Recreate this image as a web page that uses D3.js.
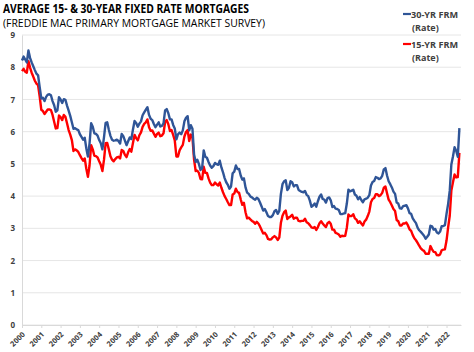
<!DOCTYPE html>
<html>
<meta charset="utf-8">
<script src="https://cdn.jsdelivr.net/npm/d3@7"></script>
<style>
  body { margin: 0; background: #fff; }
  text { font-family: "Open Sans", "Liberation Sans", sans-serif; }
</style>
<body>
<div id="plot_area"></div>
<script>

// monthly averages, Jan 2000 .. Sep 2022
var rate30 = [
  8.21, 8.33, 8.24, 8.15, 8.52, 8.29, 8.15, 8.03, 7.91, 7.80, 7.75, 7.38,
  7.03, 7.05, 6.95, 7.08, 7.15, 7.16, 7.13, 6.95, 6.82, 6.62, 6.66, 7.07,
  7.00, 6.89, 7.01, 6.99, 6.81, 6.65, 6.49, 6.29, 6.09, 6.11, 6.07, 6.05,
  5.92, 5.84, 5.75, 5.81, 5.48, 5.23, 5.63, 6.26, 6.15, 5.95, 5.93, 5.88,
  5.74, 5.64, 5.45, 5.83, 6.27, 6.29, 6.06, 5.87, 5.75, 5.72, 5.73, 5.75,
  5.71, 5.63, 5.93, 5.86, 5.72, 5.58, 5.70, 5.82, 5.77, 6.07, 6.33, 6.27,
  6.15, 6.25, 6.32, 6.51, 6.60, 6.68, 6.76, 6.52, 6.40, 6.36, 6.24, 6.14,
  6.22, 6.29, 6.16, 6.18, 6.26, 6.66, 6.70, 6.57, 6.38, 6.38, 6.21, 6.10,
  5.76, 5.92, 5.97, 5.92, 6.04, 6.32, 6.43, 6.48, 6.04, 6.20, 6.09, 5.29,
  5.06, 5.13, 5.00, 4.81, 4.86, 5.42, 5.22, 5.19, 5.06, 4.95, 4.88, 4.93,
  5.03, 4.99, 4.97, 5.10, 4.89, 4.74, 4.56, 4.43, 4.35, 4.23, 4.30, 4.71,
  4.76, 4.95, 4.84, 4.84, 4.64, 4.51, 4.55, 4.27, 4.11, 4.07, 3.99, 3.96,
  3.92, 3.89, 3.95, 3.91, 3.80, 3.68, 3.55, 3.60, 3.50, 3.38, 3.35, 3.35,
  3.41, 3.53, 3.57, 3.45, 3.54, 4.07, 4.37, 4.46, 4.49, 4.19, 4.26, 4.46,
  4.43, 4.30, 4.34, 4.34, 4.19, 4.16, 4.13, 4.12, 4.16, 4.04, 4.00, 3.86,
  3.67, 3.71, 3.77, 3.67, 3.84, 3.98, 4.05, 3.91, 3.89, 3.80, 3.94, 3.96,
  3.87, 3.66, 3.69, 3.61, 3.60, 3.57, 3.44, 3.44, 3.46, 3.47, 3.77, 4.20,
  4.15, 4.17, 4.20, 4.05, 4.01, 3.90, 3.97, 3.88, 3.81, 3.90, 3.92, 3.95,
  4.03, 4.33, 4.44, 4.47, 4.59, 4.57, 4.53, 4.55, 4.63, 4.83, 4.87, 4.64,
  4.46, 4.37, 4.27, 4.14, 4.07, 3.80, 3.77, 3.62, 3.61, 3.69, 3.70, 3.72,
  3.62, 3.47, 3.45, 3.31, 3.23, 3.16, 3.02, 2.94, 2.89, 2.83, 2.77, 2.68,
  2.74, 2.81, 3.08, 3.06, 2.96, 2.98, 2.87, 2.84, 2.90, 3.07, 3.07, 3.10,
  3.45, 3.76, 4.17, 4.98, 5.23, 5.52, 5.41, 5.22, 6.11
];

var rate15 = [
  7.88, 7.95, 7.86, 7.83, 8.19, 7.99, 7.83, 7.71, 7.58, 7.49, 7.44, 7.09,
  6.68, 6.64, 6.55, 6.62, 6.69, 6.69, 6.67, 6.52, 6.31, 6.10, 6.11, 6.50,
  6.45, 6.36, 6.52, 6.46, 6.26, 6.05, 5.91, 5.74, 5.40, 5.45, 5.42, 5.37,
  5.27, 5.18, 5.10, 5.17, 4.85, 4.60, 4.95, 5.58, 5.45, 5.25, 5.24, 5.20,
  5.08, 4.97, 4.78, 5.13, 5.64, 5.65, 5.45, 5.24, 5.13, 5.08, 5.15, 5.20,
  5.22, 5.17, 5.43, 5.40, 5.28, 5.21, 5.36, 5.46, 5.38, 5.65, 5.90, 5.80,
  5.73, 5.89, 5.98, 6.15, 6.24, 6.29, 6.38, 6.14, 6.03, 6.04, 5.94, 5.84,
  5.93, 5.97, 5.86, 5.88, 5.95, 6.30, 6.36, 6.23, 6.02, 6.05, 5.90, 5.73,
  5.23, 5.23, 5.42, 5.51, 5.59, 5.85, 5.99, 6.05, 5.71, 5.91, 5.82, 5.13,
  4.78, 4.79, 4.72, 4.53, 4.52, 4.91, 4.72, 4.72, 4.55, 4.42, 4.34, 4.34,
  4.42, 4.37, 4.33, 4.42, 4.26, 4.12, 4.00, 3.91, 3.81, 3.72, 3.72, 4.05,
  4.08, 4.23, 4.13, 4.10, 3.90, 3.73, 3.79, 3.50, 3.31, 3.33, 3.28, 3.23,
  3.20, 3.14, 3.20, 3.15, 3.06, 2.95, 2.84, 2.86, 2.79, 2.67, 2.65, 2.66,
  2.72, 2.76, 2.72, 2.64, 2.71, 3.17, 3.39, 3.50, 3.55, 3.29, 3.34, 3.37,
  3.42, 3.30, 3.33, 3.33, 3.23, 3.22, 3.23, 3.23, 3.30, 3.19, 3.16, 3.10,
  3.03, 3.01, 3.04, 2.95, 3.04, 3.16, 3.22, 3.15, 3.09, 3.04, 3.16, 3.20,
  3.14, 2.96, 2.96, 2.86, 2.84, 2.81, 2.74, 2.77, 2.76, 2.77, 3.02, 3.43,
  3.38, 3.38, 3.44, 3.31, 3.27, 3.17, 3.22, 3.15, 3.09, 3.21, 3.27, 3.38,
  3.52, 3.81, 3.91, 3.94, 4.06, 4.06, 4.00, 4.03, 4.10, 4.26, 4.30, 4.09,
  3.89, 3.81, 3.71, 3.60, 3.54, 3.26, 3.22, 3.09, 3.09, 3.15, 3.15, 3.18,
  3.09, 2.97, 2.92, 2.79, 2.69, 2.63, 2.55, 2.46, 2.38, 2.33, 2.30, 2.21,
  2.21, 2.21, 2.45, 2.35, 2.27, 2.26, 2.17, 2.16, 2.19, 2.32, 2.34, 2.35,
  2.62, 3.03, 3.39, 4.17, 4.43, 4.67, 4.58, 4.59, 5.34
];

var years = d3.range(2000, 2023);
var yTicks = d3.range(0, 10);

var width = 474, height = 352;

var svg = d3.select("#plot_area")
  .append("svg")
    .attr("width", width)
    .attr("height", height);

var x = d3.scaleLinear()
  .domain([2000, 2022.75])
  .range([22, 461]);

var y = d3.scaleLinear()
  .domain([0, 9])
  .range([325, 35]);

// gridlines
svg.append("g")
  .selectAll("line")
  .data(yTicks)
  .enter()
  .append("line")
    .attr("x1", x(2000))
    .attr("x2", x(2022.75))
    .attr("y1", function(d) { return y(d); })
    .attr("y2", function(d) { return y(d); })
    .style("stroke", "#e6e6e6")
    .style("stroke-width", 1);

// Y axis
var yAxis = svg.append("g")
  .attr("transform", "translate(" + x(2000) + ",0)")
  .call(d3.axisLeft(y).tickValues(yTicks).tickSize(0).tickPadding(7));
yAxis.select(".domain").style("stroke", "#d9d9d9");
yAxis.selectAll("text")
  .style("font-size", "8px")
  .style("font-weight", "bold")
  .style("fill", "#404040");

// X axis
var xAxis = svg.append("g")
  .attr("transform", "translate(0," + y(0) + ")")
  .call(d3.axisBottom(x).tickValues(years).tickFormat(d3.format("d")).tickSize(3).tickSizeOuter(0));
xAxis.select(".domain").style("stroke", "#d9d9d9");
xAxis.selectAll(".tick line").style("stroke", "#d9d9d9");
xAxis.selectAll("text")
  .style("font-size", "7.5px")
  .style("font-weight", "bold")
  .style("fill", "#404040")
  .style("text-anchor", "end")
  .attr("dy", null)
  .attr("y", 0)
  .attr("transform", "translate(3,10)rotate(-45)");

// lines
var line = d3.line()
  .x(function(d, i) { return x(2000 + i / 12); })
  .y(function(d) { return y(d); });

svg.append("path")
  .datum(rate15)
  .attr("d", line)
  .style("fill", "none")
  .style("stroke", "#ff0000")
  .style("stroke-width", 2.4)
  .style("stroke-linejoin", "round");

svg.append("path")
  .datum(rate30)
  .attr("d", line)
  .style("fill", "none")
  .style("stroke", "#2f5597")
  .style("stroke-width", 2.4)
  .style("stroke-linejoin", "round");

// title
svg.append("text")
  .attr("x", 3)
  .attr("y", 13)
  .attr("textLength", 246)
  .attr("lengthAdjust", "spacingAndGlyphs")
  .style("font-size", "11.5px")
  .style("font-weight", "bold")
  .style("fill", "#000")
  .text("AVERAGE 15- & 30-YEAR FIXED RATE MORTGAGES");

svg.append("text")
  .attr("x", 3)
  .attr("y", 27)
  .attr("textLength", 262)
  .attr("lengthAdjust", "spacingAndGlyphs")
  .style("font-size", "11.5px")
  .style("fill", "#000")
  .text("(FREDDIE MAC PRIMARY MORTGAGE MARKET SURVEY)");

// legend
var legendNames = ["30-YR FRM", "15-YR FRM"];
var legendColors = ["#2f5597", "#ff0000"];

var legend = svg.selectAll(".legend")
  .data(legendNames)
  .enter()
  .append("g")
    .attr("class", "legend")
    .attr("transform", function(d, i) { return "translate(403," + (14 + i * 30) + ")"; });

legend.append("line")
  .attr("x1", 0)
  .attr("x2", 8)
  .attr("y1", 0)
  .attr("y2", 0)
  .style("stroke", function(d, i) { return legendColors[i]; })
  .style("stroke-width", 2.2);

legend.append("text")
  .attr("x", 8)
  .attr("y", 3.5)
  .attr("textLength", 47)
  .attr("lengthAdjust", "spacingAndGlyphs")
  .style("font-size", "9.5px")
  .style("font-weight", "bold")
  .style("fill", "#404040")
  .text(function(d) { return d; });

legend.append("text")
  .attr("x", 9)
  .attr("y", 17)
  .style("font-size", "9px")
  .style("font-weight", "bold")
  .style("fill", "#404040")
  .text("(Rate)");

</script>
</body>
</html>
